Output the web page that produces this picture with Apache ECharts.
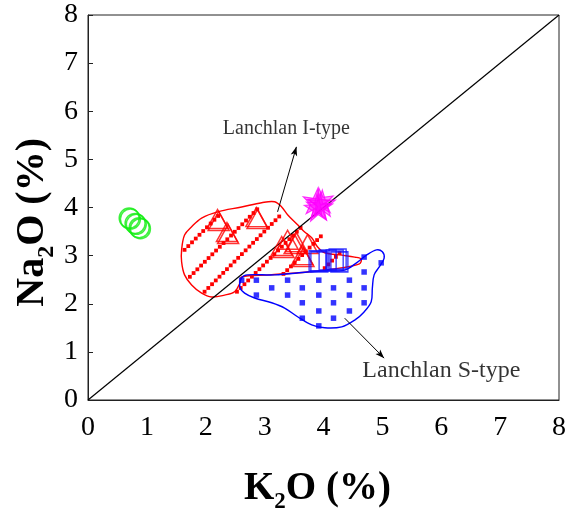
<!DOCTYPE html>
<html>
<head>
<meta charset="utf-8">
<script src="https://cdn.jsdelivr.net/npm/echarts@6/dist/echarts.min.js"></script>
<style>
  html, body { margin: 0; padding: 0; background: #fff; }
  #chart { width: 569px; height: 513px; }
</style>
</head>
<body>
<div id="chart"></div>
<script>
// K2O vs Na2O (wt %) discrimination plot
const axisTicks = [0, 1, 2, 3, 4, 5, 6, 7, 8];

// Sample groups: [K2O, Na2O]
const circleSamples = [[0.70, 3.78], [0.72, 3.76], [0.80, 3.67], [0.82, 3.65], [0.87, 3.58], [0.89, 3.56]];
const starSamples = [[3.87, 4.12], [3.93, 4.03], [3.98, 4.09], [3.90, 4.00], [3.95, 4.14]];
const triangleSamples = [
  [2.20, 3.76], [2.22, 3.72], [2.36, 3.49], [2.38, 3.45],
  [2.86, 3.80], [2.88, 3.76], [3.29, 3.20], [3.32, 3.16],
  [3.39, 3.33], [3.54, 3.28], [3.51, 3.24], [3.73, 3.24], [3.64, 3.01], [3.66, 2.97]
];
const squareSamples = [[3.90, 2.89], [3.93, 2.87], [4.07, 2.91], [4.19, 2.91], [4.24, 2.93], [4.27, 2.87]];

// Lanchlan I-type field outline
const iTypeField = [
  [1.59, 3.12], [1.64, 3.43], [1.76, 3.60], [1.93, 3.78], [2.20, 3.91], [2.61, 4.01],
  [2.95, 4.10], [3.17, 4.12], [3.29, 4.01], [3.39, 3.85], [3.56, 3.64], [3.68, 3.49],
  [3.80, 3.37], [3.90, 3.18], [4.02, 3.06], [4.31, 3.01], [4.53, 2.97], [4.64, 2.93],
  [4.61, 2.83], [4.27, 2.74], [3.73, 2.66], [3.08, 2.60], [2.61, 2.56], [2.58, 2.43],
  [2.49, 2.25], [2.32, 2.18], [2.10, 2.14], [1.93, 2.22], [1.76, 2.39], [1.64, 2.60], [1.59, 2.87]
];
// Hatch strokes across the I-type field: [start, end]
const iTypeHatch = [
  [[1.64, 3.12], [2.24, 3.86]],
  [[1.73, 2.56], [2.88, 3.97]],
  [[1.98, 2.25], [3.31, 3.89]],
  [[2.53, 2.25], [3.63, 3.60]],
  [[3.32, 2.62], [3.97, 3.42]],
  [[4.02, 2.74], [4.32, 3.11]]
];

// Lanchlan S-type field outline and stipple
const sTypeField = [
  [2.58, 2.35], [2.61, 2.54], [2.71, 2.60], [3.17, 2.60], [3.73, 2.66], [3.97, 2.68],
  [4.36, 2.70], [4.56, 2.85], [4.73, 3.01], [4.90, 3.12], [5.00, 3.08], [5.03, 2.95],
  [4.95, 2.77], [4.86, 2.60], [4.83, 2.33], [4.81, 2.04], [4.69, 1.83], [4.53, 1.66],
  [4.31, 1.52], [4.02, 1.50], [3.80, 1.56], [3.56, 1.73], [3.34, 1.91], [3.12, 2.02],
  [2.83, 2.12], [2.66, 2.22]
];
const sTypeDots = [
  [4.69, 2.97], [4.98, 2.85], [4.69, 2.66],
  [2.61, 2.49], [2.86, 2.49], [3.39, 2.49], [3.92, 2.49], [4.44, 2.49],
  [3.12, 2.33], [3.64, 2.33], [4.17, 2.33], [4.69, 2.33],
  [2.86, 2.18], [3.39, 2.18], [3.92, 2.18], [4.44, 2.18],
  [3.64, 2.02], [4.17, 2.02], [4.69, 2.02],
  [3.92, 1.85], [4.44, 1.85],
  [3.64, 1.70], [4.17, 1.70],
  [3.92, 1.54]
];

// 1:1 reference line
const unitLine = [[0, 0], [8, 8]];

// Field labels and their leader lines
const noteTexts = ['Lanchlan I-type', 'Lanchlan S-type'];
const notePositions = [[2.29, 5.63], [4.66, 0.60]];
const noteLeaders = [
  [[3.22, 3.91], [3.54, 5.26]],
  [[4.36, 1.70], [5.03, 0.87]]
];

const SERIF = '"Liberation Serif", "Times New Roman", serif';
const STAR = 'path://M50,0 L61,35 L98,35 L68,57 L79,91 L50,70 L21,91 L32,57 L2,35 L39,35 Z';
const noteFontSizes = [20, 24];

function polygonSeries(points, color) {
  return {
    type: 'custom',
    coordinateSystem: 'cartesian2d',
    data: [0],
    silent: true,
    z: 2,
    renderItem: function (params, api) {
      return {
        type: 'polygon',
        shape: { points: points.map(p => api.coord(p)), smooth: 0.35 },
        style: { fill: 'none', stroke: color, lineWidth: 1.4 }
      };
    }
  };
}

const chart = echarts.init(document.getElementById('chart'), null, { renderer: 'canvas' });

function titleRich(size) {
  return {
    b: { fontFamily: SERIF, fontSize: size, fontWeight: 'bold', color: '#000' },
    s: { fontFamily: SERIF, fontSize: Math.round(size * 0.6), fontWeight: 'bold', color: '#000',
         padding: [Math.round(size * 0.68), 0, 0, 0] }
  };
}

chart.setOption({
  backgroundColor: '#fff',
  animation: false,
  grid: { left: 88, right: 9, top: 15, bottom: 113, show: true, borderColor: '#222', borderWidth: 1 },
  graphic: [
    {
      type: 'text', left: 244, top: 469,
      style: { text: '{b|K}{s|2}{b|O (%)}', rich: titleRich(39) }
    },
    {
      type: 'text', left: 13, top: 138, rotation: Math.PI / 2,
      style: { text: '{b|Na}{s|2}{b|O (%)}', rich: titleRich(40) }
    }
  ],
  xAxis: {
    type: 'value', min: axisTicks[0], max: axisTicks[axisTicks.length - 1], interval: 1,
    axisLine: { show: true, lineStyle: { color: '#222', width: 1 } },
    axisTick: { show: false },
    splitLine: { show: false },
    axisLabel: { fontFamily: SERIF, fontSize: 28, color: '#000', margin: 14 }
  },
  yAxis: {
    type: 'value', min: axisTicks[0], max: axisTicks[axisTicks.length - 1], interval: 1,
    axisLine: { show: true, lineStyle: { color: '#222', width: 1 } },
    axisTick: { show: true, inside: true, length: 5, lineStyle: { color: '#222' } },
    splitLine: { show: false },
    axisLabel: { fontFamily: SERIF, fontSize: 28, color: '#000', margin: 10 }
  },
  series: [
    polygonSeries(iTypeField, '#ff0000'),
    {
      // dotted hatching: small squares stepped along each stroke
      type: 'custom',
      coordinateSystem: 'cartesian2d',
      data: iTypeHatch.map((_, i) => i),
      silent: true,
      z: 2,
      renderItem: function (params, api) {
        const seg = iTypeHatch[params.dataIndex];
        const a = api.coord(seg[0]), b = api.coord(seg[1]);
        const len = Math.hypot(b[0] - a[0], b[1] - a[1]);
        const step = 5.3, size = 3.8;
        const n = Math.floor(len / step);
        const children = [];
        for (let k = 0; k <= n; k++) {
          const t = k * step / len;
          const x = a[0] + (b[0] - a[0]) * t, y = a[1] + (b[1] - a[1]) * t;
          children.push({
            type: 'rect',
            shape: { x: x - size / 2, y: y - size / 2, width: size, height: size },
            style: { fill: '#ff0000' }
          });
        }
        return { type: 'group', children: children };
      }
    },
    polygonSeries(sTypeField, '#0000ff'),
    {
      type: 'scatter', data: sTypeDots, symbol: 'rect', symbolSize: 5.5, z: 2,
      itemStyle: { color: '#0000ff' }, silent: true
    },
    {
      type: 'line', data: unitLine, symbol: 'none', z: 3, silent: true,
      lineStyle: { color: '#000', width: 1.2 }
    },
    {
      type: 'scatter', data: circleSamples, symbol: 'circle', symbolSize: 20, z: 4,
      itemStyle: { color: 'rgba(0,0,0,0)', borderColor: '#11ee11', borderWidth: 1.5 }
    },
    {
      type: 'scatter', data: triangleSamples, symbol: 'triangle', symbolSize: [21, 19], z: 4,
      itemStyle: { color: 'rgba(0,0,0,0)', borderColor: '#ff0000', borderWidth: 1.5 }
    },
    {
      type: 'scatter', data: squareSamples, symbol: 'rect', symbolSize: [17, 20], z: 4,
      itemStyle: { color: 'rgba(0,0,0,0)', borderColor: '#1010ff', borderWidth: 1.5 }
    },
    {
      type: 'scatter', data: starSamples, symbol: STAR, symbolSize: 26, z: 4,
      symbolRotate: function (v, p) { return (p.dataIndex - 2) * 4; },
      itemStyle: { color: 'rgba(255,0,255,0.55)', borderColor: '#ff00ff', borderWidth: 1.2 }
    },
    {
      type: 'line', data: [], z: 5, silent: true,
      markLine: {
        silent: true,
        symbol: ['none', 'arrow'],
        symbolSize: [5, 9],
        label: { show: false },
        lineStyle: { color: '#000', width: 1, type: 'solid' },
        data: noteLeaders.map(seg => [{ coord: seg[0] }, { coord: seg[1] }])
      }
    },
    {
      type: 'scatter', symbolSize: 0, z: 5, silent: true,
      data: notePositions.map((p, i) => ({
        value: p, name: noteTexts[i],
        label: { fontSize: noteFontSizes[i] }
      })),
      label: {
        show: true, position: 'right', distance: 0, formatter: '{b}',
        fontFamily: SERIF, color: '#000'
      }
    }
  ]
});
</script>
</body>
</html>
